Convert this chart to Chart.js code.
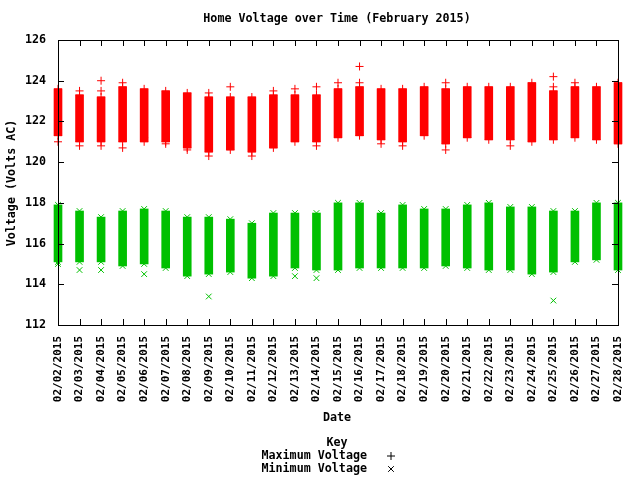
<!DOCTYPE html>
<html><head><meta charset="utf-8">
<script src="https://cdn.jsdelivr.net/npm/chart.js@4"></script>
<style>html,body{margin:0;padding:0;background:#fff}#c{display:block}</style>
</head><body>
<div style="width:640px;height:480px"><canvas id="c" width="640" height="480"></canvas></div>
<script>
const days = ["02/02/2015","02/03/2015","02/04/2015","02/05/2015","02/06/2015","02/07/2015","02/08/2015","02/09/2015","02/10/2015","02/11/2015","02/12/2015","02/13/2015","02/14/2015","02/15/2015","02/16/2015","02/17/2015","02/18/2015","02/19/2015","02/20/2015","02/21/2015","02/22/2015","02/23/2015","02/24/2015","02/25/2015","02/26/2015","02/27/2015","02/28/2015"];
const maxLow  = [121.3,121.0,121.0,121.0,121.0,121.0,120.7,120.5,120.6,120.5,120.7,121.0,121.0,121.2,121.3,121.1,121.0,121.3,120.9,121.2,121.1,121.1,121.0,121.1,121.2,121.1,120.9];
const maxHigh = [123.6,123.3,123.2,123.7,123.6,123.5,123.4,123.2,123.2,123.2,123.3,123.3,123.3,123.6,123.7,123.6,123.6,123.7,123.6,123.7,123.7,123.7,123.9,123.5,123.7,123.7,123.9];
const maxExtra = [[121.0],[120.8,123.5],[120.8,123.5,124.0],[120.7,123.9],[121.2],[120.9],[120.6],[120.3,123.4],[123.7],[120.3],[123.5],[123.6],[120.8,123.7],[123.9],[124.7,123.9],[120.9],[120.8],[],[123.9,120.6],[],[],[120.8],[],[124.2,123.7],[123.9],[],[]];
const minLow  = [115.1,115.1,115.1,114.9,115.0,114.8,114.4,114.5,114.6,114.3,114.4,114.8,114.7,114.7,114.8,114.8,114.8,114.8,114.9,114.8,114.7,114.7,114.5,114.6,115.1,115.2,114.7];
const minHigh = [117.9,117.6,117.3,117.6,117.7,117.6,117.3,117.3,117.2,117.0,117.5,117.5,117.5,118.0,118.0,117.5,117.9,117.7,117.7,117.9,118.0,117.8,117.8,117.6,117.6,118.0,118.0];
const minExtra = [[115.0],[114.7],[114.7],[],[114.5],[],[],[113.4],[],[],[],[114.4],[114.3],[],[],[],[],[],[],[],[],[],[],[113.2],[],[],[]];
const yTicks = [112,114,116,118,120,122,124,126];

const RED='#ff0000', GREEN='#00c000';
function ends(lo,hi,ex){const a=[];days.forEach((d,i)=>{a.push({x:d,y:lo[i]},{x:d,y:hi[i]});ex[i].forEach(v=>a.push({x:d,y:v}));});return a;}
const FONT='"DejaVu Sans Mono", monospace';

const deco={id:'deco',
 afterDraw(ch){const c=ch.ctx,a=ch.chartArea,xs=ch.scales.x,ys=ch.scales.y;
  c.save();c.strokeStyle='#000';c.lineWidth=1;
  c.strokeRect(a.left+0.5,a.top+0.5,a.right-a.left,a.bottom-a.top);
  c.beginPath();
  yTicks.forEach(v=>{const y=Math.round(ys.getPixelForValue(v))+0.5;c.moveTo(a.left,y);c.lineTo(a.left+6,y);c.moveTo(a.right,y);c.lineTo(a.right-6,y);});
  days.forEach((d,i)=>{const x=Math.round(xs.getPixelForValue(i))+0.5;c.moveTo(x,a.bottom);c.lineTo(x,a.bottom-6);c.moveTo(x,a.top);c.lineTo(x,a.top+6);});
  c.stroke();
  c.fillStyle='#000';c.textAlign='center';c.textBaseline='middle';
  c.font='bold 11.7px '+FONT;
  c.fillText('Home Voltage over Time (February 2015)',337,19);
  c.fillText('Date',337,418);
  c.fillText('Key',337,443);
  c.textAlign='right';
  c.fillText('Maximum Voltage',367,456);
  c.fillText('Minimum Voltage',367,469);
  c.save();c.translate(12,183);c.rotate(-Math.PI/2);c.textAlign='center';c.fillText('Voltage (Volts AC)',0,0);c.restore();
  c.strokeStyle='#000';c.lineWidth=1;
  Chart.helpers.drawPoint(c,{pointStyle:'cross',radius:4,borderWidth:1},391,456);
  Chart.helpers.drawPoint(c,{pointStyle:'crossRot',radius:4,borderWidth:1},391,469);
  c.restore();}};

new Chart(document.getElementById('c'),{
 type:'bar',
 data:{labels:days,datasets:[
  {type:'bar',data:days.map((d,i)=>[maxLow[i],maxHigh[i]]),backgroundColor:RED,barThickness:8,grouped:false,clip:false},
  {type:'bar',data:days.map((d,i)=>[minLow[i],minHigh[i]]),backgroundColor:GREEN,barThickness:8,grouped:false,clip:false},
  {type:'line',showLine:false,clip:false,data:ends(maxLow,maxHigh,maxExtra),pointStyle:'cross',pointRadius:4,borderColor:RED,borderWidth:1},
  {type:'line',showLine:false,clip:false,data:ends(minLow,minHigh,minExtra),pointStyle:'crossRot',pointRadius:4,borderColor:GREEN,borderWidth:1}
 ]},
 options:{responsive:false,animation:false,devicePixelRatio:1,
  layout:{padding:{top:40,right:22,left:0,bottom:0}},
  plugins:{legend:{display:false},tooltip:{enabled:false},title:{display:false}},
  scales:{
   x:{type:'category',offset:false,grid:{display:false},border:{display:false},
      ticks:{autoSkip:false,maxRotation:90,minRotation:90,color:'#000',font:{family:FONT,size:11,weight:'bold'},padding:3},
      afterFit(s){s.height=155;}},
   y:{min:112,max:126,afterBuildTicks(s){s.ticks=yTicks.map(v=>({value:v}));},
      grid:{display:false},border:{display:false},
      ticks:{color:'#000',font:{family:FONT,size:11.7,weight:'bold'},padding:4},
      afterFit(s){s.width=58;}}
  }},
 plugins:[deco]});
</script></body></html>
